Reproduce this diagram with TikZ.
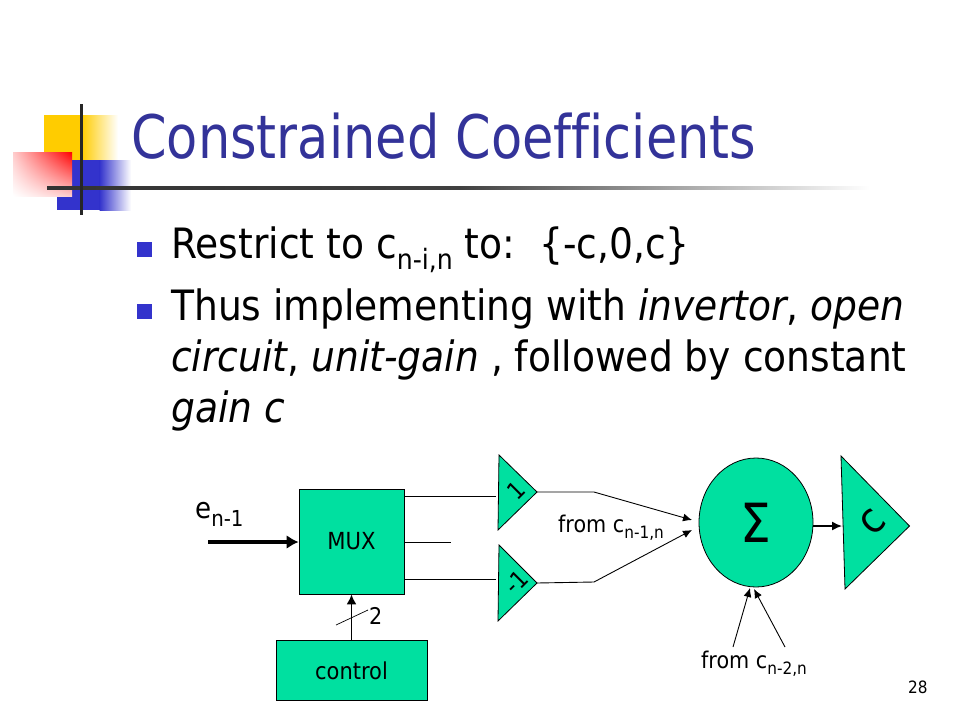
\documentclass[tikz,border=0pt]{standalone}
\usepackage{fontspec}
\usetikzlibrary{arrows.meta,shadings,shapes.geometric}
\setmainfont{DejaVu Sans}[FakeStretch=0.9,Ligatures=NoCommon]
\newfontfamily\titlefont{DejaVu Sans}[FakeStretch=0.85,Ligatures=NoCommon]
\definecolor{teal1}{RGB}{0,224,160}
\definecolor{navy1}{RGB}{51,51,153}
\definecolor{blue1}{RGB}{51,51,204}
\definecolor{gold1}{RGB}{255,204,0}
\newcommand{\txt}[1]{\fontsize{#1}{#1}\selectfont}
\newcommand{\lowtxt}[2]{\raisebox{-0.28em}{\txt{#1}#2}}
\tikzset{
  x=1pt,y=-1pt,
  block/.style={draw=black,line width=0.8pt,fill=teal1,inner sep=0pt,align=center},
  tri/.style={draw=black,line width=0.8pt,fill=teal1},
  wire/.style={draw=black,line width=0.9pt},
  arr/.style={wire,-{Latex[length=9pt,width=8pt]}},
  lbl/.style={inner sep=0pt,anchor=base west,text=black},
  bul/.style={fill=blue1,minimum size=15pt,inner sep=0pt}
}
\begin{document}
\begin{tikzpicture}
\useasboundingbox (0,0) rectangle (960,720);
\fill[white] (0,0) rectangle (960,720);
% logo
\fill[gold1] (44,115) rectangle (82,160);
\shade[left color=gold1,right color=white] (81.5,115) rectangle (118,160);
\fill[blue1] (57,160) rectangle (100,210);
\shade[left color=blue1,right color=white] (99.5,160) rectangle (131,210);
\shade[lower left=white,upper left=white!80!red,lower right=white!80!red,upper right=red] (13,152) rectangle (72,196);
\shade[left color=black!80,right color=white,middle color=black!75] (47,186.5) rectangle (870,189.5);
\fill[black!85] (79.5,104) rectangle (82.5,215);
% title
\node[lbl,text=navy1] (title) at (131,158) {\titlefont\txt{60}Constrained Coefficients};
% bullets
\node[bul] (b1) at (144,249.5) {};
\node[bul] (b2) at (144,311) {};
\node[lbl] (t1) at (171,258) {\txt{41.8}Restrict to c\lowtxt{28}{n-i,n} to:\ \ \{-c,0,c\}};
\node[lbl] (t2) at (171,320) {\txt{41.8}Thus implementing with \textit{invertor}, \textit{open}};
\node[lbl] (t3) at (171,371) {\txt{41.8}\textit{circuit}, \textit{unit-gain} , followed by constant};
\node[lbl] (t4) at (171,422) {\txt{41.8}\textit{gain c}};
% blocks
\node[block,minimum width=105pt,minimum height=105pt] (mux) at (351.5,541.5) {\raisebox{-1pt}{\txt{23.5}MUX}};
\node[block,minimum width=151pt,minimum height=60pt] (ctrl) at (351.5,670.5) {\raisebox{-1pt}{\txt{23.3}control}};
\node[block,ellipse,minimum width=114pt,minimum height=129pt] (sum) at (756,522.5) {\txt{54}Σ};
% triangles
\coordinate (a1) at (537,492);
\coordinate (a2) at (537,583);
\draw[tri] (499,455) -- (a1) -- (498,530) -- cycle;
\draw[tri] (499,545) -- (a2) -- (498,621) -- cycle;
\draw[tri] (841,456) -- (909.5,526) -- (845,589) -- cycle;
\node[rotate=45,inner sep=0pt] (g1) at (516,490) {\txt{24}1};
\node[rotate=45,inner sep=0pt] (g2) at (516,582) {\txt{24}-1};
\node[rotate=45,inner sep=0pt] (gc) at (873,522) {\txt{42}c};
% wires
\coordinate (m1) at (496,496);
\coordinate (m2) at (451,542);
\coordinate (m3) at (496,579);
\draw[wire] (mux.east|-m1) -- (m1);
\draw[wire] (mux.east|-m2) -- (m2);
\draw[wire] (mux.east|-m3) -- (m3);
\coordinate (e0) at (208,542);
\draw[draw=black,line width=3.5pt,-{Latex[length=12pt,width=14pt]}] (e0) -- (mux.west|-e0);
\draw[arr,line width=1.6pt,-{Latex[length=10pt,width=10pt]}] (ctrl.north) -- (mux.south);
\coordinate (s1) at (336,625);
\coordinate (s2) at (368,610);
\draw[draw=black,line width=0.7pt] (s1) -- (s2);
\coordinate (j1) at (594,492);
\coordinate (j2) at (594,582);
\coordinate (i1) at (692,520);
\coordinate (i2) at (692,530);
\draw[arr] (a1) -- (j1) -- (i1);
\draw[arr] (a2) -- (j2) -- (i2);
\coordinate (c0) at (842,526);
\draw[arr,line width=1.4pt,-{Latex[length=10pt,width=9pt]}] (sum.east|-c0) -- (c0);
\coordinate (b3) at (733,647);
\coordinate (b4) at (785,647);
\coordinate (i3) at (750,588);
\coordinate (i4) at (754,589);
\draw[arr] (b3) -- (i3);
\draw[arr] (b4) -- (i4);
% labels
\node[lbl] (en) at (195,518) {\txt{29}e\lowtxt{22}{n-1}};
\node[lbl] (two) at (369,624) {\txt{23}2};
\node[lbl] (f1) at (558,532) {\txt{23}from c\lowtxt{17}{n-1,n}};
\node[lbl] (f2) at (701,668) {\txt{23}from c\lowtxt{17}{n-2,n}};
\node[lbl] (pg) at (908,693) {\txt{17}28};
\end{tikzpicture}
\end{document}
